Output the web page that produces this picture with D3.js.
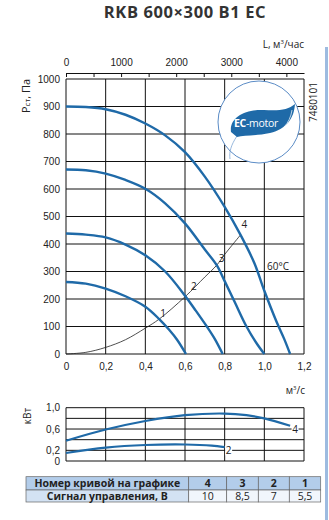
<!DOCTYPE html>
<html>
<head>
<meta charset="utf-8">
<script src="https://cdn.jsdelivr.net/npm/d3@7"></script>
<style>
  body { margin: 0; background: #fff; }
  svg { display: block; font-family: "Open Sans", "Noto Sans", sans-serif; }
  .grid line { stroke: #111; stroke-width: 1; }
  .tick text { fill: #222; font-size: 10px; }
</style>
</head>
<body>
<div id="chart"></div>
<script>
// pressure curves, [m3/s, Pa]
const curve4 = [[0,900],[0.1,898],[0.2,890],[0.3,870],[0.4,838],[0.5,795],[0.6,734],[0.7,645],[0.8,535],[0.88,433],[0.95,330],[1.0,230],[1.06,120],[1.1,55],[1.13,0]];
const curve3 = [[0,671],[0.1,668],[0.2,656],[0.3,633],[0.4,601],[0.5,548],[0.6,475],[0.7,380],[0.76,323],[0.8,265],[0.85,190],[0.91,100],[0.96,40],[1.0,0]];
const curve2 = [[0,438],[0.1,434],[0.2,424],[0.3,398],[0.4,359],[0.5,300],[0.6,212],[0.65,162],[0.71,100],[0.75,55],[0.79,0]];
const curve1 = [[0,262],[0.1,256],[0.2,238],[0.3,210],[0.4,172],[0.47,127],[0.52,88],[0.56,52],[0.605,0]];
// system resistance curve
const sysCurve = [[0,0],[0.1,6],[0.2,24],[0.3,52],[0.4,94],[0.47,127],[0.6,208],[0.7,280],[0.76,323],[0.8,362],[0.88,433]];
// power, [m3/s, kW]
const power4 = [[0,0.38],[0.2,0.59],[0.4,0.75],[0.6,0.86],[0.8,0.89],[0.91,0.86],[1.0,0.80],[1.13,0.66]];
const power2 = [[0,0.15],[0.2,0.25],[0.4,0.30],[0.6,0.31],[0.735,0.29],[0.8,0.26]];

const flowTicks = [0,0.2,0.4,0.6,0.8,1.0,1.2];
const pressTicks = [0,100,200,300,400,500,600,700,800,900,1000];
const airTicks = [0,500,1000,1500,2000,2500,3000,3500,4000];
const powerGrid = [0,0.2,0.4,0.6,0.8,1.0];
const powerTicks = [0,0.2,0.6,1.0];

const curveNums = ["4","3","2","1"];
const signals = ["10","8,5","7","5,5"];

const width = 329, height = 520;
const blue = "#1f6aa8";

const svg = d3.select("#chart").append("svg")
  .attr("width", width)
  .attr("height", height);

const comma = d => d === 0 ? "0" : d3.format(".1f")(d).replace(".", ",");

// scales
const x = d3.scaleLinear().domain([0, 1.2]).range([66, 304]);
const y = d3.scaleLinear().domain([0, 1000]).range([354, 79]);
const xL = d3.scaleLinear().domain([0, 4320]).range([66, 304]);
const yP = d3.scaleLinear().domain([0, 1]).range([461, 407.7]);

// title
svg.append("text")
  .attr("x", 185).attr("y", 18)
  .attr("text-anchor", "middle")
  .attr("font-size", 16.5).attr("font-weight", "bold")
  .attr("fill", "#333")
  .attr("letter-spacing", 0.6)
  .text("RKB 600×300 B1 EC");

// right decoration bar
svg.append("rect")
  .attr("x", 325).attr("y", 47).attr("width", 3).attr("height", 473)
  .attr("fill", "#9dbbe0");

// main grid
const grid = svg.append("g").attr("class", "grid");
grid.selectAll(".v").data(flowTicks).enter().append("line")
  .attr("x1", d => x(d)).attr("x2", d => x(d))
  .attr("y1", y(0)).attr("y2", y(1000));
grid.selectAll(".h").data(pressTicks).enter().append("line")
  .attr("x1", x(0)).attr("x2", x(1.2))
  .attr("y1", d => y(d)).attr("y2", d => y(d));

// left axis
svg.append("g")
  .attr("transform", "translate(" + x(0) + ",0)")
  .call(d3.axisLeft(y).tickValues(pressTicks).tickFormat(d3.format("d")).tickSize(0).tickPadding(6))
  .call(g => g.select(".domain").remove());

// bottom axis
svg.append("g")
  .attr("transform", "translate(0," + y(0) + ")")
  .call(d3.axisBottom(x).tickValues(flowTicks).tickFormat(comma).tickSize(0).tickPadding(9))
  .call(g => g.select(".domain").remove());

// top axis, m3/h
svg.append("g")
  .attr("transform", "translate(0,73)")
  .call(d3.axisTop(xL).tickValues(airTicks).tickSize(-4).tickSizeOuter(0).tickPadding(7)
    .tickFormat(d => d % 1000 === 0 ? d : ""))
  .call(g => g.selectAll(".tick line").attr("stroke", "#111"))
  .call(g => g.select(".domain").attr("stroke", "#111"));

// axis titles
svg.append("text")
  .attr("x", 304).attr("y", 48).attr("text-anchor", "end")
  .attr("font-size", 10).attr("fill", "#222")
  .html('L, м<tspan font-size="6" dy="-4">3</tspan><tspan dy="4">/час</tspan>');

svg.append("text")
  .attr("x", 305).attr("y", 394).attr("text-anchor", "end")
  .attr("font-size", 10).attr("fill", "#222")
  .html('м<tspan font-size="6" dy="-4">3</tspan><tspan dy="4">/с</tspan>');

svg.append("text")
  .attr("transform", "translate(30,96) rotate(-90)")
  .attr("text-anchor", "middle")
  .attr("font-size", 11).attr("fill", "#222")
  .html('P<tspan font-size="8">ст</tspan>, Па');

svg.append("text")
  .attr("transform", "translate(31,416) rotate(-90)")
  .attr("text-anchor", "middle")
  .attr("font-size", 10).attr("fill", "#222")
  .text("кВт");

svg.append("text")
  .attr("transform", "translate(317,102) rotate(-90)")
  .attr("text-anchor", "middle")
  .attr("font-size", 10).attr("fill", "#222")
  .text("7480101");

// EC-motor logo
const logo = svg.append("g");
logo.append("circle")
  .attr("cx", 259).attr("cy", 122).attr("r", 41)
  .attr("fill", "#fff").attr("stroke", "#5b8cc6").attr("stroke-width", 1);
logo.append("path")
  .attr("d", "M237,136 C231,145 229,152 230,159")
  .attr("fill", "none").attr("stroke", "#7ea6d4").attr("stroke-width", 0.8);
logo.append("path")
  .attr("d", "M231,132 C229,117 246,109 264,110 C279,111 288,110 295,104 C294,118 287,129 270,133 C256,136 244,135 237,137 Z")
  .attr("fill", blue);
logo.append("path")
  .attr("d", "M284,127 C288,123 291,117 292,110")
  .attr("fill", "none").attr("stroke", "#fff").attr("stroke-width", 0.7);
logo.append("text")
  .attr("x", 234).attr("y", 127)
  .attr("font-size", 10.5).attr("fill", "#fff")
  .attr("letter-spacing", -0.3)
  .html('<tspan font-weight="bold">EC</tspan>-motor');

// curves
const line = d3.line()
  .x(d => x(d[0])).y(d => y(d[1]))
  .curve(d3.curveCatmullRom.alpha(0.5));

svg.append("path").datum(sysCurve)
  .attr("d", line).attr("fill", "none")
  .attr("stroke", "#222").attr("stroke-width", 0.8);

[curve4, curve3, curve2, curve1].forEach(c => {
  svg.append("path").datum(c)
    .attr("d", line).attr("fill", "none")
    .attr("stroke", blue).attr("stroke-width", 2.4);
});

// curve numbers at operating points
const labelPts = [[0.475, 134, "1"], [0.63, 232, "2"], [0.77, 333, "3"], [0.885, 460, "4"]];
svg.selectAll(".num").data(labelPts).enter().append("text")
  .attr("x", d => x(d[0])).attr("y", d => y(d[1]))
  .attr("font-size", 10).attr("fill", "#222")
  .text(d => d[2]);

svg.append("text")
  .attr("x", 267).attr("y", 270)
  .attr("font-size", 10).attr("fill", "#222")
  .text("60°C");

// power chart
const pgrid = svg.append("g").attr("class", "grid");
pgrid.selectAll(".v").data(flowTicks).enter().append("line")
  .attr("x1", d => x(d)).attr("x2", d => x(d))
  .attr("y1", yP(0)).attr("y2", yP(1));
pgrid.selectAll(".h").data(powerGrid).enter().append("line")
  .attr("x1", x(0)).attr("x2", x(1.2))
  .attr("y1", d => yP(d)).attr("y2", d => yP(d));

svg.append("g")
  .attr("transform", "translate(" + x(0) + ",0)")
  .call(d3.axisLeft(yP).tickValues(powerTicks).tickFormat(comma).tickSize(0).tickPadding(6))
  .call(g => g.select(".domain").remove());

const pline = d3.line()
  .x(d => x(d[0])).y(d => yP(d[1]))
  .curve(d3.curveCatmullRom.alpha(0.5));

[power4, power2].forEach(c => {
  svg.append("path").datum(c)
    .attr("d", pline).attr("fill", "none")
    .attr("stroke", blue).attr("stroke-width", 2.2);
});

const pLabels = [[1.155, 0.6, "4"], [0.82, 0.2, "2"]];
pLabels.forEach(d => {
  svg.append("rect")
    .attr("x", x(d[0]) - 3.5).attr("y", yP(d[1]) - 5)
    .attr("width", 7).attr("height", 10).attr("fill", "#fff");
  svg.append("text")
    .attr("x", x(d[0])).attr("y", yP(d[1]) + 3.8)
    .attr("text-anchor", "middle")
    .attr("font-size", 10).attr("fill", "#222")
    .text(d[2]);
});

// table
const colX = [26, 188.7, 226.7, 258.3, 289.3, 320.7];
const rowY = [476.7, 490, 502];
const rows = [
  { head: "Номер кривой на графике", vals: curveNums, fill: "#b3cdea", vfill: "#b3cdea", bold: true },
  { head: "Сигнал управления, В", vals: signals, fill: "#d3e2f3", vfill: "#f1f6fc", bold: false }
];
const table = svg.append("g");
rows.forEach((r, i) => {
  table.append("rect")
    .attr("x", colX[0]).attr("y", rowY[i])
    .attr("width", colX[1] - colX[0]).attr("height", rowY[i + 1] - rowY[i])
    .attr("fill", r.fill).attr("stroke", "#666").attr("stroke-width", 0.7);
  table.append("text")
    .attr("x", (colX[0] + colX[1]) / 2).attr("y", rowY[i] + 10)
    .attr("text-anchor", "middle")
    .attr("font-size", 10.5).attr("font-weight", "bold").attr("fill", "#222")
    .text(r.head);
  r.vals.forEach((v, j) => {
    table.append("rect")
      .attr("x", colX[j + 1]).attr("y", rowY[i])
      .attr("width", colX[j + 2] - colX[j + 1]).attr("height", rowY[i + 1] - rowY[i])
      .attr("fill", r.vfill).attr("stroke", "#666").attr("stroke-width", 0.7);
    table.append("text")
      .attr("x", (colX[j + 1] + colX[j + 2]) / 2).attr("y", rowY[i] + 10)
      .attr("text-anchor", "middle")
      .attr("font-size", 10.5).attr("font-weight", r.bold ? "bold" : "normal").attr("fill", "#222")
      .text(v);
  });
});
</script>
</body>
</html>
